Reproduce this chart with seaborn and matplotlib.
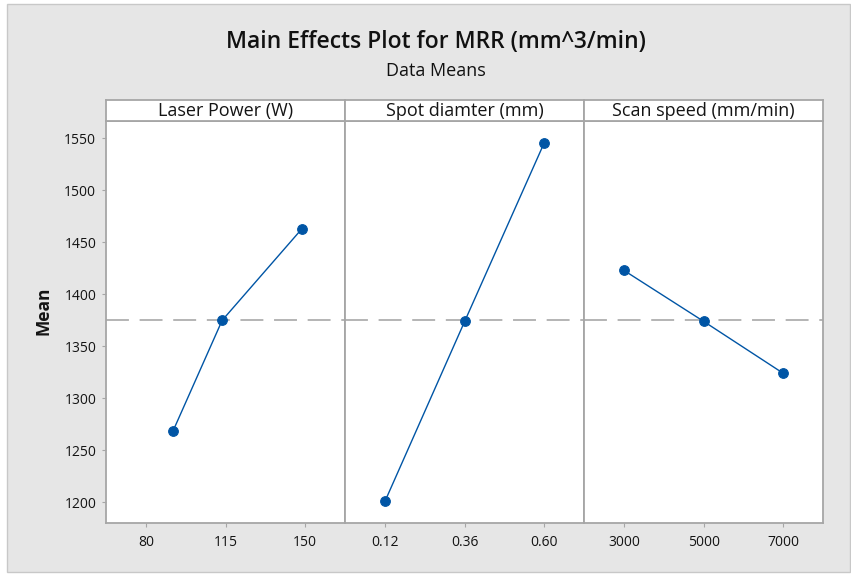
import numpy as np
import pandas as pd
import matplotlib
matplotlib.use("Agg")
import matplotlib.pyplot as plt
import seaborn as sns
from matplotlib.patches import Rectangle

# ==========================================================
# DATA
# ==========================================================

factors = ["Laser Power (W)", "Spot diamter (mm)", "Scan speed (mm/min)"]

laser_x = [92, 113.5, 148.5]
laser_mean = [1269, 1375, 1463]
laser_ticks = [80, 115, 150]
laser_labels = ["80", "115", "150"]

spot_x = [0.12, 0.36, 0.60]
spot_mean = [1201, 1374, 1546]
spot_ticks = [0.12, 0.36, 0.60]
spot_labels = ["0.12", "0.36", "0.60"]

speed_x = [3000, 5000, 7000]
speed_mean = [1423, 1374, 1324]
speed_ticks = [3000, 5000, 7000]
speed_labels = ["3000", "5000", "7000"]

grand_mean = 1375
y_ticks = [1200, 1250, 1300, 1350, 1400, 1450, 1500, 1550]

panels = [
    (laser_x, laser_mean, laser_ticks, laser_labels, (62.5, 167.5)),
    (spot_x, spot_mean, spot_ticks, spot_labels, (0.0, 0.72)),
    (speed_x, speed_mean, speed_ticks, speed_labels, (2000, 8000)),
]

# ==========================================================
# STYLE
# ==========================================================

sns.set_style("white")
plt.rcParams["font.family"] = ["Open Sans", "DejaVu Sans"]

W, H = 851, 574
fig = plt.figure(figsize=(W / 100, H / 100), dpi=100)
fig.patch.set_facecolor("white")

# grey backdrop with thin border
fig.patches.append(Rectangle((7 / W, 2 / H), (W - 8) / W, (H - 6) / H,
                             transform=fig.transFigure, facecolor="#e6e6e6",
                             edgecolor="#c8c8c8", linewidth=1, zorder=-10))

frame_col = "#a6a6a6"
line_col = "#0055a5"
text_col = "#141414"

left, right = 106 / W, 823.3 / W
bottom, top = 1 - 522.7 / H, 1 - 120.7 / H
strip_top = 1 - 100 / H
pw = (right - left) / 3

for i, (xs, ys, ticks, labels, xlim) in enumerate(panels):
    ax = fig.add_axes([left + i * pw, bottom, pw, top - bottom])
    ax.set_facecolor("white")

    df = pd.DataFrame({"level": xs, "mean": ys})
    sns.lineplot(data=df, x="level", y="mean", ax=ax, color=line_col,
                 linewidth=1.0, marker="o", markersize=7,
                 markeredgecolor=line_col, markerfacecolor=line_col)

    ax.axhline(grand_mean, color="#a0a0a0", linewidth=1.1,
               dashes=(15, 7), zorder=0)

    ax.set_xlim(*xlim)
    ax.set_ylim(1180.5, 1567)
    ax.set_xticks(ticks)
    ax.set_xticklabels(labels)
    ax.set_xlabel("")
    ax.set_ylabel("")
    ax.set_yticks(y_ticks)
    ax.tick_params(axis="both", direction="out", length=3, width=0.8,
                   color=frame_col, labelsize=10, labelcolor=text_col,
                   bottom=True, left=(i == 0), pad=4)
    ax.tick_params(axis="x", pad=6)
    if i > 0:
        ax.set_yticklabels([])
    for sp in ax.spines.values():
        sp.set_color(frame_col)
        sp.set_linewidth(1.3)
        sp.set_visible(True)

    # header strip
    sx = fig.add_axes([left + i * pw, top, pw, strip_top - top])
    sx.set_facecolor("white")
    sx.set_xticks([])
    sx.set_yticks([])
    for sp in sx.spines.values():
        sp.set_color(frame_col)
        sp.set_linewidth(1.3)
    sx.text(0.5, 0.47, factors[i], ha="center", va="center",
            fontsize=13, color=text_col, transform=sx.transAxes)

fig.text(44 / W, 1 - 311 / H, "Mean", rotation=90, ha="center", va="center",
         fontsize=12.5, fontweight="bold", color=text_col)

fig.text(436 / W, 1 - 42 / H, "Main Effects Plot for MRR (mm^3/min)",
         ha="center", va="center", fontsize=16.5, fontweight="semibold",
         color="#111111")
fig.text(436 / W, 1 - 71.5 / H, "Data Means", ha="center", va="center",
         fontsize=13, color="#111111")

fig.savefig("out.png", dpi=100, facecolor=fig.get_facecolor())
